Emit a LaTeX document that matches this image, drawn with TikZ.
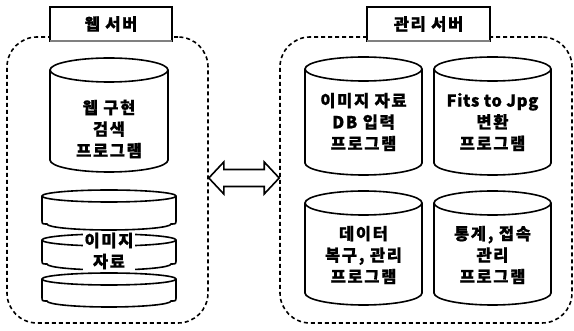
\documentclass[tikz,border=0pt]{standalone}
\usepackage{fontspec}
\newfontfamily\kr[LetterSpace=10,BoldFeatures={FakeBold=0.8}]{Noto Sans CJK KR}
\newfontfamily\krlat[LetterSpace=4,BoldFeatures={FakeBold=0.8}]{Noto Sans CJK KR}
\usetikzlibrary{calc}
\tikzset{
  dbox/.style={draw, line width=1.6pt, dash pattern=on 4pt off 3pt, rounded corners=30pt},
  ttl/.style={draw, line width=1.4pt, fill=white, inner sep=0pt, font=\kr\bfseries\fontsize{16.5}{18}\selectfont},
  cyl/.style={draw, line width=1.6pt, fill=white},
  lbl/.style={align=center, inner sep=1pt, font=\kr\bfseries\fontsize{16.5}{21.5}\selectfont},
  slbl/.style={align=center, inner sep=1.5pt, fill=white, font=\kr\bfseries\fontsize{16.5}{21}\selectfont},
  dblarrow/.style={draw, line width=1.6pt, fill=white, line join=miter}
}
\newcommand\drum[5]{%
  \filldraw[cyl] (#1,#3+#5) -- (#1,#4-#5)
    arc[start angle=180,end angle=360,x radius={(#2-#1)*0.5pt},y radius=#5pt]
    -- (#2,#3+#5)
    arc[start angle=0,end angle=180,x radius={(#2-#1)*0.5pt},y radius=#5pt] -- cycle;
  \draw[cyl,fill=none] (#1,#3+#5)
    arc[start angle=180,end angle=360,x radius={(#2-#1)*0.5pt},y radius=#5pt];}
\newcommand\tire[5]{%
  \filldraw[cyl] (#1,#3+#5) -- (#1,#4-#5-4) .. controls (#1,#4-#5) .. (#1+5,#4-#5)
    arc[start angle=180,end angle=360,x radius={(#2-#1-10)*0.5pt},y radius=#5pt]
    .. controls (#2,#4-#5) .. (#2,#4-#5-4)
    -- (#2,#3+#5)
    arc[start angle=0,end angle=180,x radius={(#2-#1)*0.5pt},y radius=#5pt] -- cycle;
  \draw[cyl,fill=none] (#1,#3+#5)
    arc[start angle=180,end angle=360,x radius={(#2-#1)*0.5pt},y radius=#5pt];}
\begin{document}
\begin{tikzpicture}[x=1pt,y=-1pt]
\useasboundingbox[fill=white] (0,0) rectangle (574,331);
% dashed containers
\node[dbox, minimum width=201pt, minimum height=286pt] (web) at (107.5,180) {};
\node[dbox, minimum width=292pt, minimum height=286pt] (mgr) at (426,180) {};
% titles
\node[ttl, minimum width=122pt, minimum height=34pt] (tweb) at (111,24) {웹 서버};
\draw[gray, line width=2pt] ([xshift=1pt,yshift=1pt]tweb.south west) -- ([xshift=-1pt,yshift=1pt]tweb.south east);
\node[ttl, minimum width=123pt, minimum height=34pt] (tmgr) at (428.5,24) {관리 서버};
\draw[gray, line width=2pt] ([xshift=1pt,yshift=1pt]tmgr.south west) -- ([xshift=-1pt,yshift=1pt]tmgr.south east);
% web server
\drum{50}{168}{58}{172}{12}
\node[lbl] (search) at (109,129) {웹 구현\\검색\\프로그램};
\tire{42}{176}{190}{230}{6}
\tire{42}{176}{234}{270}{6}
\tire{42}{176}{273}{307}{6}
\node[slbl] (img) at (109,251) {이미지\\자료};
% management server
\drum{305}{422}{57}{175}{12}
\node[lbl] (dbin) at (363.5,122) {이미지 자료\\DB 입력\\프로그램};
\drum{434}{551}{57}{175}{12}
\node[lbl] (conv) at (492.5,122) {{\krlat Fits to Jpg}\\변환\\프로그램};
\drum{305}{422}{191}{305}{12}
\node[lbl] (rec) at (363.5,255) {데이터\\복구, 관리\\프로그램};
\drum{434}{551}{191}{305}{12}
\node[lbl] (stat) at (492.5,255) {통계, 접속\\관리\\프로그램};
% double arrow between servers
\coordinate (aL) at ($(web.east)+(0,-2)$);
\coordinate (aR) at ($(mgr.west)+(0,-2)$);
\draw[dblarrow] (aL) -- ++(15,-16) -- ++(0,7.5) -- ($(aR)+(-15,-8.5)$) -- ++(0,-7.5)
  -- (aR) -- ++(-15,16) -- ++(0,-7.5) -- ($(aL)+(15,8.5)$) -- ++(0,7.5) -- cycle;
\end{tikzpicture}
\end{document}
